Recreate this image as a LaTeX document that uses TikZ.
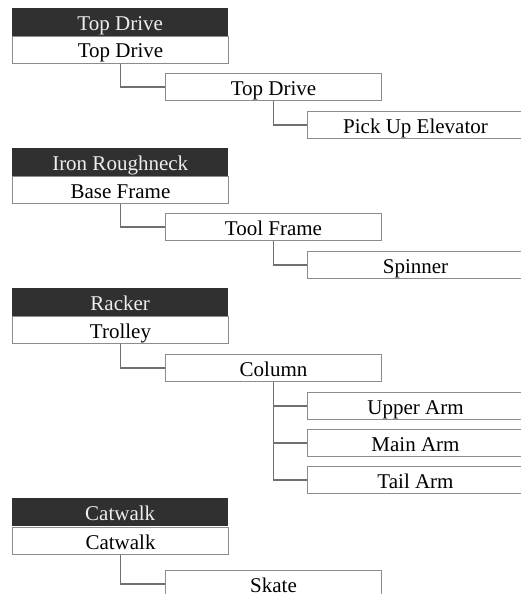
\documentclass[tikz,border=0pt]{standalone}
\usepackage{fontspec}
\setmainfont{Liberation Serif}
\usetikzlibrary{positioning}
\definecolor{hdrDark}{RGB}{48,48,48}
\definecolor{hdrText}{RGB}{238,238,238}
\definecolor{boxGray}{RGB}{140,140,140}
\definecolor{linkGray}{RGB}{112,112,112}

\begin{document}
\begin{tikzpicture}[x=1pt,y=-1pt,
      base/.style={anchor=north west,inner sep=0pt,minimum width=216pt,minimum height=27pt,
                   text height=19.5pt,text depth=3.5pt,font=\fontsize{21}{24}\selectfont},
      hdr/.style={base,fill=hdrDark,text=hdrText,minimum height=28pt},
      part/.style={base,draw=boxGray,line width=1pt,fill=white},
      link/.style={draw=linkGray,line width=1.4pt}]
    \useasboundingbox (0,0) rectangle (521,594);
    \clip (0,0) rectangle (521,594);
    % top drive
    \node[hdr] (tdHead) at (12,8) {Top Drive};
    \node[part] (tdMain) at (12,36) {Top Drive};
    \node[part] (tdSub) at (165,73) {Top Drive};
    \node[part] (tdElev) at (307,111) {Pick Up Elevator};
    \draw[link] (tdMain.south) |- (tdSub.west);
    \draw[link] (tdSub.south) |- (tdElev.west);
    % iron roughneck
    \node[hdr] (irHead) at (12,148) {Iron Roughneck};
    \node[part] (irBase) at (12,176) {Base Frame};
    \node[part] (irTool) at (165,213) {Tool Frame};
    \node[part] (irSpin) at (307,251) {Spinner};
    \draw[link] (irBase.south) |- (irTool.west);
    \draw[link] (irTool.south) |- (irSpin.west);
    % racker
    \node[hdr] (rkHead) at (12,288) {Racker};
    \node[part] (rkTrolley) at (12,316) {Trolley};
    \node[part] (rkCol) at (165,354) {Column};
    \node[part] (rkUpper) at (307,392) {Upper Arm};
    \node[part] (rkMain) at (307,429) {Main Arm};
    \node[part] (rkTail) at (307,466) {Tail Arm};
    \draw[link] (rkTrolley.south) |- (rkCol.west);
    \draw[link] (rkCol.south) |- (rkUpper.west);
    \draw[link] (rkCol.south) |- (rkMain.west);
    \draw[link] (rkCol.south) |- (rkTail.west);
    % catwalk
    \node[hdr] (cwHead) at (12,498) {Catwalk};
    \node[part] (cwMain) at (12,527) {Catwalk};
    \node[part] (cwSkate) at (165,570) {Skate};
    \draw[link] (cwMain.south) |- (cwSkate.west);
\end{tikzpicture}
\end{document}
